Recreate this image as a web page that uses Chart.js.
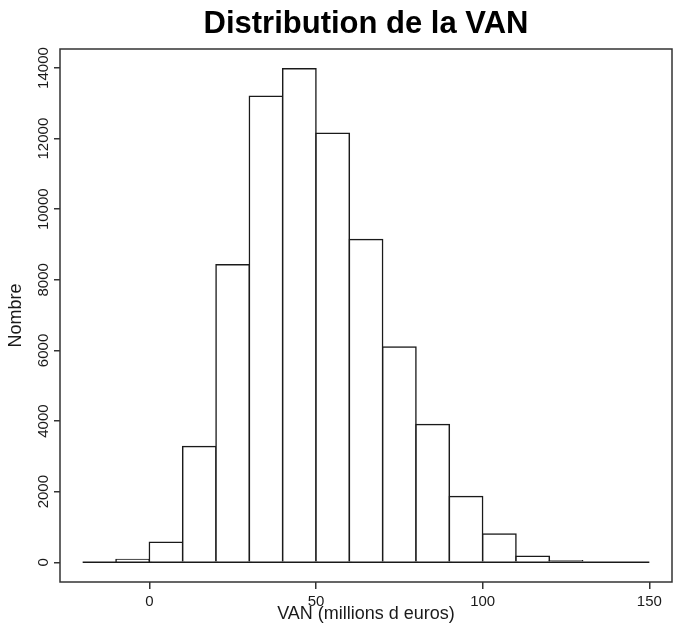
<!DOCTYPE html>
<html>
<head>
<meta charset="utf-8">
<script src="https://cdn.jsdelivr.net/npm/chart.js@4"></script>
<style>
  html, body { margin: 0; padding: 0; background: #fff; }
  #wrap { width: 675px; height: 629px; }
</style>
</head>
<body>
<div id="wrap"><canvas id="result-chart"></canvas></div>
<script>
// histogram bins (millions d euros), width 10
const bin_edges = [-20, -10, 0, 10, 20, 30, 40, 50, 60, 70, 80, 90, 100, 110, 120, 130, 140, 150];
const counts = [0, 75, 570, 3280, 8430, 13200, 13980, 12150, 9140, 6100, 3900, 1860, 800, 170, 40, 0, 0];
const x_ticks = [0, 50, 100, 150];
const y_ticks = [0, 2000, 4000, 6000, 8000, 10000, 12000, 14000];

const ink = "#1a1a1a";
const label_font = { family: "Liberation Sans", size: 15 };
const title_font = { family: "Liberation Sans", size: 18, lineHeight: 1.2 };

const get_bars = () =>
  counts.map((c, i) => ({ x: (bin_edges[i] + bin_edges[i + 1]) / 2, y: c }));

// R extends the axis range by 4% on each side
const extend = (lo, hi) => {
  const d = (hi - lo) * 0.04;
  return [lo - d, hi + d];
};

const box_plugin = {
  id: "box",
  afterDraw: (chart) => {
    const { ctx, chartArea: a } = chart;
    ctx.save();
    ctx.strokeStyle = "#333";
    ctx.lineWidth = 1.5;
    ctx.strokeRect(a.left, a.top, a.right - a.left, a.bottom - a.top);
    ctx.restore();
  },
};

const [x_min, x_max] = extend(bin_edges[0], bin_edges[bin_edges.length - 1]);
const [y_min, y_max] = extend(0, Math.max(...counts));

const config = {
  type: "bar",
  data: {
    datasets: [
      {
        data: get_bars(),
        backgroundColor: "#fff",
        borderColor: ink,
        borderWidth: 1.5,
        inflateAmount: 0.75,
        barPercentage: 1,
        categoryPercentage: 1,
        order: 2,
      },
      {
        type: "line",
        data: [
          { x: bin_edges[0], y: 0 },
          { x: bin_edges[bin_edges.length - 1], y: 0 },
        ],
        borderColor: ink,
        borderWidth: 1.5,
        pointRadius: 0,
        order: 1,
      },
    ],
  },
  options: {
    responsive: true,
    maintainAspectRatio: false,
    animation: false,
    layout: { padding: { right: 3 } },
    plugins: {
      legend: { display: false },
      tooltip: { enabled: false },
      title: {
        display: true,
        text: "Distribution de la VAN",
        fullSize: false,
        color: "#000",
        font: { family: "Liberation Sans", size: 31, weight: "bold", lineHeight: 1.2 },
        padding: { top: 5.7, bottom: 6.1 },
      },
    },
    scales: {
      x: {
        type: "linear",
        min: x_min,
        max: x_max,
        offset: false,
        afterBuildTicks: (s) => { s.ticks = x_ticks.map((v) => ({ value: v })); },
        afterFit: (s) => { s.height = 47; },
        border: { display: false },
        grid: { offset: false, drawOnChartArea: false, color: "#333", lineWidth: 1.5, tickLength: 7 },
        ticks: {
          autoSkip: false,
          maxRotation: 0,
          padding: 4,
          color: ink,
          font: label_font,
          callback: (v) => String(v),
        },
        title: {
          display: true,
          text: "VAN (millions d euros)",
          color: ink,
          font: title_font,
          padding: { top: 0, bottom: 3.7 },
        },
      },
      y: {
        min: y_min,
        max: y_max,
        afterBuildTicks: (s) => { s.ticks = y_ticks.map((v) => ({ value: v })); },
        afterFit: (s) => { s.width = 60; },
        border: { display: false },
        grid: { drawOnChartArea: false, color: "#333", lineWidth: 1.5, tickLength: 6 },
        ticks: {
          autoSkip: false,
          minRotation: 90,
          maxRotation: 90,
          crossAlign: "center",
          padding: -11,
          color: ink,
          font: label_font,
          callback: (v) => String(v),
        },
        title: {
          display: true,
          text: "Nombre",
          color: ink,
          font: title_font,
          padding: { top: 5.7, bottom: 0 },
        },
      },
    },
  },
  plugins: [box_plugin],
};

const result_chart = new Chart(document.getElementById("result-chart"), config);
</script>
</body>
</html>
